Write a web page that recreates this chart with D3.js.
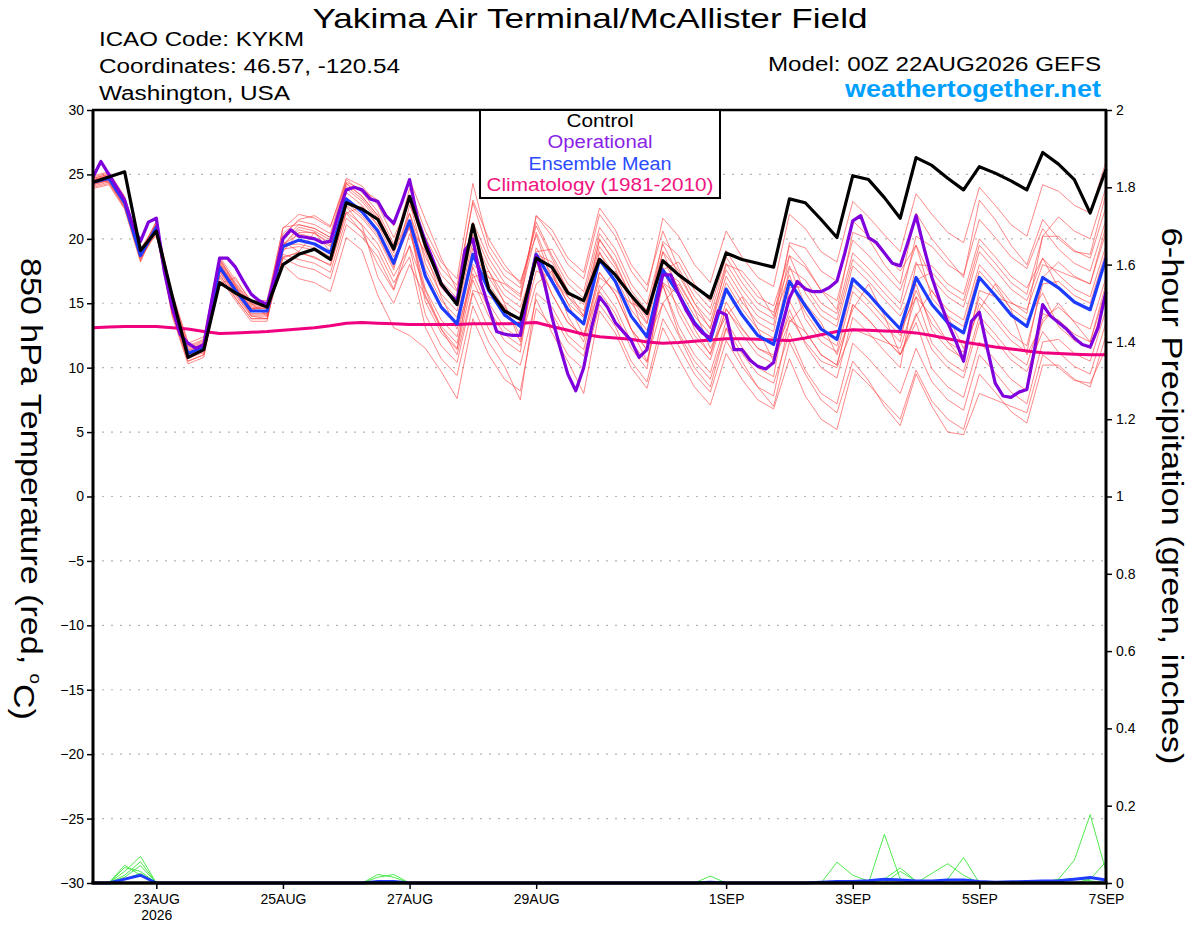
<!DOCTYPE html>
<html>
<head>
<meta charset="utf-8">
<script src="https://cdn.jsdelivr.net/npm/d3@7"></script>
<style>
  body { margin: 0; background: #fff; }
  text { font-family: "Liberation Sans", Arial, sans-serif; }
</style>
</head>
<body>
<script>
// 6-hourly, 00Z 22AUG2026 .. 00Z 07SEP2026
var control = [24.4,24.8,25.2,19.1, 20.6,15.6,10.8,11.4,16.6,15.8,15.2,14.7,
  18.0,18.8,19.2,18.4,22.8,22.3,21.5,19.2, 23.3,19.5,16.5,14.9,21.1,16.1,14.4,13.75,
  18.5,17.8,15.8,15.2,18.4,17.2,15.6,14.2, 18.3,17.2,16.3,15.4,18.9,18.4,18.1,17.8,
  23.1,22.8,21.5,20.1,24.9,24.6,23.2,21.6, 26.3,25.7,24.7,23.8,25.6,25.1,24.5,23.8,
  26.7,25.8,24.6,22.0,25.4];

var ensMean = [24.4,24.7,22.8,18.7, 20.9,14.8,11.1,11.6,17.8,16.0,14.4,14.4,
  19.4,19.9,19.6,18.9,23.1,22.1,20.6,18.1, 21.4,17.1,14.7,13.4,18.8,16.0,14.1,13.2,
  18.8,16.7,14.5,13.4,18.4,16.7,14.0,12.4, 17.6,15.7,13.5,12.1,16.1,14.1,12.5,11.8,
  16.7,14.8,13.0,12.2,16.9,15.7,14.3,13.0, 17.0,14.9,13.5,12.7,17.0,15.6,14.1,13.2,
  17.0,16.2,15.1,14.5,18.5];

var climo = [13.1,13.15,13.2,13.2, 13.2,13.1,13.0,12.8,12.65,12.7,12.75,12.8,
  12.9,13.0,13.1,13.25,13.45,13.5,13.45,13.4, 13.35,13.35,13.35,13.35,13.4,13.4,13.4,13.45,
  13.5,13.2,12.9,12.6,12.4,12.3,12.2,12.0, 11.9,11.95,12.05,12.15,12.25,12.25,12.2,12.15,
  12.1,12.3,12.55,12.8,12.95,12.9,12.85,12.8, 12.7,12.5,12.25,12.0,11.8,11.6,11.45,11.3,
  11.15,11.1,11.05,11.0,11.0];

// operational run, 3-hourly
var operational = [24.8,26.0,25.0,24.0,23.0,21.1,19.8,21.3,21.6,17.5,
  14.7,12.6,11.9,11.5,11.8,15.2,18.5,18.5,17.8,16.7,
  15.7,15.2,14.9,17.2,20.0,20.7,20.2,20.1,20.0,19.7,
  19.8,21.9,23.8,24.0,23.8,23.1,22.9,21.8,21.2,22.8,
  24.6,21.6,19.8,18.3,16.5,15.7,15.2,19.1,20.0,16.7,
  14.7,12.8,12.6,12.5,12.5,16.0,18.7,16.7,13.9,11.6,
  9.5,8.2,10.0,13.1,15.5,14.7,13.5,12.8,12.1,10.8,
  11.4,14.4,17.2,17.2,15.7,14.4,13.4,12.7,12.3,14.4,
  14.1,11.4,11.4,10.6,10.1,9.9,10.4,13.1,15.4,16.7,
  16.1,15.9,15.9,16.2,16.7,18.9,21.4,21.8,20.1,19.7,
  18.9,18.1,17.9,19.8,21.8,19.3,17.0,15.2,13.5,12.1,
  10.5,13.6,14.3,11.5,8.8,7.8,7.7,8.1,8.3,11.5,
  14.9,14.0,13.5,13.0,12.3,11.8,11.6,13.1,15.9];

// ensemble members (850 hPa temperature)
var m01 = [24.7,25.0,23.1,19.0, 21.3,15.3,11.6,12.1,18.3,16.5,14.9,14.9, 20.4,21.4,21.1,20.4,24.6,23.6,22.1,19.6,
  23.4,19.6,17.2,15.9,21.3,18.5,16.6,15.7, 21.8,20.2,18.0,16.9,21.9,20.2,17.5,15.9, 21.6,20.2,18.0,16.6,20.6,18.6,17.0,16.3,
  21.9,20.8,19.0,18.2,22.9,21.7,20.3,19.0, 23.5,21.9,20.5,19.7,24.0,22.6,21.1,20.2, 24.2,23.7,22.6,22.0,26.0];
var m02 = [24.2,24.5,22.6,18.5, 20.4,14.2,10.5,11.0,17.2,15.4,13.8,13.8, 18.6,18.9,18.6,17.9,22.1,21.1,19.6,17.1,
  19.4,14.1,11.7,10.4,15.8,13.0,11.1,10.2, 15.3,12.7,10.5,8.0,14.4,12.7,10.0,8.4, 13.1,10.7,8.5,7.1,11.1,9.1,7.5,6.8,
  10.7,7.8,6.0,5.2,9.9,8.7,7.3,6.0, 9.8,7.4,6.0,5.2,9.5,8.1,6.6,5.7, 10.2,10.2,9.1,8.5,12.5];
var m03 = [24.5,24.8,22.9,18.8, 21.4,15.6,11.9,12.4,18.6,16.8,15.2,15.2, 20.8,21.9,21.6,20.9,24.7,24.1,22.6,20.1,
  22.9,18.1,15.7,14.4,19.8,17.0,15.1,14.2, 18.8,15.7,13.5,12.4,17.4,15.7,13.0,11.4, 17.6,16.7,14.5,13.1,17.1,15.1,13.5,12.8,
  18.7,17.8,16.0,15.2,19.9,18.7,17.3,16.0, 19.5,16.9,15.5,14.7,19.0,17.6,16.1,15.2, 18.5,17.2,16.1,15.5,19.5];
var m04 = [24.1,24.4,22.5,18.4, 20.6,14.5,10.8,11.3,17.5,15.7,14.1,14.1, 19.5,20.4,20.1,19.4,23.6,22.6,21.1,18.6,
  20.9,15.6,13.2,11.9,17.3,14.5,12.6,11.7, 18.8,18.2,16.0,14.9,19.9,18.2,15.5,13.9, 19.8,18.7,16.5,15.1,19.1,17.1,15.5,14.8,
  18.7,15.8,14.0,13.2,17.9,16.7,15.3,14.0, 16.5,12.9,11.5,10.7,15.0,13.6,12.1,11.2, 17.0,18.2,17.1,16.5,20.5];
var m05 = [24.8,25.1,23.2,19.1, 21.1,14.8,11.1,11.6,17.8,16.0,14.4,14.4, 19.2,19.4,19.1,18.4,22.6,21.6,20.1,17.6,
  22.6,20.1,17.7,16.4,22.8,19.0,17.1,16.2, 21.3,18.7,16.5,15.4,20.4,18.7,16.0,14.4, 17.8,14.2,12.0,10.6,14.6,12.6,11.0,10.3,
  14.5,11.8,10.0,9.2,13.9,12.7,11.3,10.0, 16.8,17.4,16.0,15.2,19.5,18.1,16.6,15.7, 20.2,20.2,19.1,18.5,22.5];
var m06 = [24.3,24.6,22.7,18.6, 21.0,15.1,11.4,11.9,18.1,16.3,14.7,14.7, 18.8,18.4,18.1,17.4,21.6,20.6,19.1,16.6,
  18.6,13.1,10.7,9.4,14.8,12.0,10.1,7.5, 15.8,14.7,12.5,11.4,16.4,14.7,12.0,10.4, 16.6,15.7,13.5,12.1,16.1,14.1,12.5,11.8,
  17.7,16.8,15.0,14.2,18.9,17.7,16.3,15.0, 20.2,19.4,18.0,17.2,21.5,20.1,18.6,17.7, 20.8,19.2,18.1,17.5,21.5];
var m07 = [24.6,24.9,23.0,18.9, 20.7,14.2,10.5,11.0,17.2,15.4,13.8,13.8, 19.5,20.7,20.4,19.7,23.9,22.9,21.4,18.9,
  22.0,17.6,15.2,13.9,19.3,16.5,14.6,13.7, 19.3,17.2,15.0,13.9,18.9,17.2,14.5,12.9, 16.4,12.7,10.5,9.1,13.1,11.1,9.5,8.8,
  12.7,9.8,8.0,7.2,11.9,10.7,9.3,8.0, 11.5,8.9,7.5,6.7,11.0,9.6,8.1,7.2, 12.0,12.2,11.1,10.5,14.5];
var m08 = [24.0,24.3,22.4,18.3, 21.0,15.4,11.7,12.2,18.4,16.6,15.0,15.0, 19.5,19.6,19.3,18.6,22.8,21.8,20.3,17.8,
  22.0,18.6,16.2,14.9,20.3,17.5,15.6,14.7, 18.3,14.2,12.0,10.9,15.9,14.2,11.5,9.9, 17.6,18.2,16.0,14.6,18.6,16.6,15.0,14.3,
  17.9,14.8,13.0,12.2,16.9,15.7,14.3,13.0, 15.5,11.9,10.5,9.7,14.0,12.6,11.1,10.2, 14.2,13.7,12.6,12.0,16.0];
var m09 = [24.4,24.7,22.8,18.7, 20.5,14.0,10.3,10.8,17.0,15.2,13.6,13.6, 19.5,20.9,20.6,19.9,24.1,23.1,21.6,19.1,
  20.9,15.1,12.7,11.4,16.8,14.0,12.1,11.2, 19.0,19.2,17.0,15.9,20.9,19.2,16.5,14.9, 19.6,17.2,15.0,13.6,17.6,15.6,14.0,13.3,
  19.7,19.3,17.5,16.7,21.4,20.2,18.8,17.5, 19.5,15.4,14.0,13.2,17.5,16.1,14.6,13.7, 15.8,13.2,12.1,11.5,15.5];
var m10 = [24.9,25.2,23.3,19.2, 21.2,15.0,11.3,11.8,18.0,16.2,14.6,14.6, 18.5,17.9,17.6,16.9,21.1,20.1,18.6,16.1,
  20.4,17.1,14.7,13.4,18.8,16.0,14.1,13.2, 18.3,15.7,13.5,12.4,17.4,15.7,13.0,11.4, 16.6,14.7,12.5,11.1,15.1,13.1,11.5,10.8,
  15.2,12.8,11.0,10.2,14.9,13.7,12.3,11.0, 13.5,9.9,8.5,7.7,12.0,10.6,9.1,8.2, 13.8,14.7,13.6,13.0,17.0];
var m11 = [23.9,24.2,22.3,18.2, 20.9,15.2,11.5,12.0,18.2,16.4,14.8,14.8, 20.9,21.1,20.8,20.1,24.3,23.3,21.8,19.3,
  23.9,20.6,18.2,16.9,24.3,19.5,17.6,16.7, 20.3,16.7,14.5,13.4,18.4,16.7,14.0,12.4, 16.4,13.2,11.0,9.6,13.6,11.6,10.0,9.3,
  16.2,16.3,14.5,13.7,18.4,17.2,15.8,14.5, 18.2,15.9,14.5,13.7,18.0,16.6,15.1,14.2, 20.2,21.7,20.6,20.0,24.0];
var m12 = [24.6,24.9,23.0,18.9, 20.9,14.6,10.9,11.4,17.6,15.8,14.2,14.2, 19.3,19.9,19.6,18.9,23.1,22.1,20.6,18.1,
  20.9,16.1,13.7,12.4,17.8,15.0,13.1,12.2, 18.8,17.7,15.5,14.4,19.4,17.7,15.0,13.4, 18.4,16.2,14.0,12.6,16.6,14.6,13.0,12.3,
  16.7,14.3,12.5,11.7,16.4,15.2,13.8,12.5, 16.0,13.4,12.0,11.2,15.5,14.1,12.6,11.7, 16.5,16.7,15.6,15.0,19.0];
var m13 = [24.3,24.6,22.7,18.6, 21.0,15.0,11.3,11.8,18.0,16.2,14.6,14.6, 18.0,16.9,16.6,15.9,20.1,19.1,15.6,13.1,
  12.5,11.5,9.7,7.6,13.8,11.0,9.1,8.2, 14.6,13.2,11.0,9.9,14.9,13.2,10.5,8.9, 13.8,11.7,9.5,8.1,12.1,10.1,8.5,7.8,
  13.7,12.8,11.0,10.2,14.9,13.7,12.3,11.0, 14.2,11.4,10.0,9.2,13.5,12.1,10.6,9.7, 12.8,11.2,10.1,9.5,13.5];
var m14 = [24.7,25.0,23.1,19.0, 20.9,14.4,10.7,11.2,17.4,15.6,14.0,14.0, 19.9,21.1,20.8,20.1,24.3,23.3,21.8,19.3,
  23.1,19.1,16.7,15.4,20.8,18.0,16.1,15.2, 21.8,20.7,18.5,17.4,22.4,20.7,18.0,16.4, 20.6,17.7,15.5,14.1,18.1,16.1,14.5,13.8,
  17.2,13.8,12.0,11.2,15.9,14.7,13.3,12.0, 18.0,17.9,16.5,15.7,20.0,18.6,17.1,16.2, 18.5,16.2,15.1,14.5,18.5];
var m15 = [24.5,24.9,23.0,18.9, 21.0,15.0,11.0,11.5,18.5,16.4,14.0,13.8, 19.0,20.5,20.5,19.0,22.5,21.0,17.0,15.0,
  18.0,15.5,13.0,11.0,16.0,15.5,14.8,12.5, 17.5,17.0,15.5,14.0,20.0,18.0,15.5,13.5, 19.0,17.5,15.0,13.0,18.0,17.5,16.0,14.0,
  19.5,18.0,16.0,14.5,20.5,20.0,18.0,16.5, 22.0,20.0,18.5,17.0,23.0,21.5,19.5,18.0, 21.5,20.0,19.0,18.8,23.5];
var m16 = [24.2,24.6,22.9,19.2, 20.2,15.8,12.0,11.0,16.5,17.0,15.0,14.0, 18.5,19.0,20.5,19.5,22.0,22.5,21.0,19.5,
  21.0,19.0,15.5,13.0,17.0,17.5,15.0,12.0, 16.5,17.5,15.0,12.5,16.0,17.5,15.5,12.0, 15.0,16.5,14.5,11.5,14.0,15.5,13.0,10.5,
  13.5,15.0,13.5,11.0,14.5,16.5,14.0,11.0, 14.0,16.0,14.0,11.5,14.5,16.5,14.5,11.0, 13.5,15.0,13.5,12.0,16.5];
var m17 = [24.3,24.5,22.4,18.6, 21.2,15.3,11.2,11.6,18.0,16.2,14.6,14.8, 20.2,21.5,21.8,21.0,24.4,23.8,23.0,21.0,
  24.6,21.5,18.5,16.0,23.0,20.0,18.0,16.5, 21.0,18.5,16.0,14.0,19.0,16.5,13.0,10.5, 15.0,12.5,10.0,8.5,13.0,10.5,8.5,7.0,
  12.0,9.5,7.5,6.5,10.5,9.0,7.0,5.5, 9.5,7.0,5.0,4.8,8.0,7.5,7.0,6.5, 11.0,10.0,9.0,8.8,11.5];
var m18 = [24.6,24.4,22.7,18.9, 20.7,14.7,11.0,11.4,17.9,15.9,14.6,14.2, 19.8,19.0,18.5,18.0,22.0,20.5,18.0,16.0,
  19.5,16.0,13.0,11.5,18.0,17.0,16.5,15.5, 20.5,17.5,14.0,12.0,17.0,16.0,15.0,14.5, 19.0,16.0,13.0,11.0,14.5,13.0,11.5,11.0,
  14.0,12.0,10.5,10.0,13.0,12.5,12.0,11.5, 15.5,14.0,12.0,10.5,16.0,15.5,15.0,14.5, 18.0,17.5,17.0,16.5,21.0];
var members = [m01,m02,m03,m04,m05,m06,m07,m08,m09,m10,m11,m12,m13,m14,m15,m16,m17,m18];

// 6-hour precipitation, inches
var precipA = [0,0,0.046,0.02,0,0,0,0,0,0, 0,0,0,0,0,0,0,0,0.022,0.015, 0,0,0,0,0,0,0,0,0,0,
  0,0,0,0,0,0,0,0,0,0, 0,0,0,0,0,0,0,0.054,0.02,0.005, 0,0,0,0,0,0,0,0,0,0, 0,0,0,0,0];
var precipB = [0,0,0.03,0.069,0,0,0,0,0,0, 0,0,0,0,0,0,0,0,0.015,0.022, 0,0,0,0,0,0,0,0,0,0,
  0,0,0,0,0,0,0,0,0,0, 0,0,0,0,0,0,0,0,0,0, 0.126,0.01,0,0,0,0,0,0,0,0, 0,0,0,0,0];
var precipC = [0,0,0.02,0.055,0,0,0,0,0,0, 0,0,0,0,0,0,0,0,0,0, 0,0,0,0,0,0,0,0,0,0,
  0,0,0,0,0,0,0,0,0,0, 0,0,0,0,0,0,0,0,0,0, 0.01,0.039,0.005,0,0,0,0,0,0,0, 0,0,0,0.01,0.055];
var precipD = [0,0,0.015,0.045,0,0,0,0,0,0, 0,0,0,0,0,0,0,0,0,0, 0,0,0,0,0,0,0,0,0,0,
  0,0,0,0,0,0,0,0,0,0.018, 0,0,0,0,0,0,0,0,0,0, 0,0.03,0.005,0,0,0,0,0,0.004,0, 0,0,0,0,0];
var precipE = [0,0,0.04,0.03,0,0,0,0,0,0, 0,0,0,0,0,0,0,0,0,0, 0,0,0,0,0,0,0,0,0,0,
  0,0,0,0,0,0,0,0,0,0, 0,0,0,0,0,0,0,0,0,0, 0,0,0,0.025,0.05,0.02,0,0,0,0, 0,0.01,0.059,0.177,0.03];
var precipF = [0,0,0.01,0.025,0,0,0,0,0,0, 0,0,0,0,0.002,0,0,0,0,0, 0,0,0,0,0,0,0,0,0,0,
  0,0,0,0,0,0,0,0,0,0, 0,0,0,0,0,0,0,0,0,0, 0,0,0,0,0.01,0.066,0,0,0,0, 0.004,0.008,0.012,0.006,0];
var precipMembers = [precipA, precipB, precipC, precipD, precipE, precipF];
var precipMean = [0,0,0.01,0.02,0,0,0,0,0,0, 0,0,0,0,0,0,0,0,0.004,0.004, 0,0,0,0,0,0,0,0,0,0,
  0,0,0,0,0,0,0,0,0,0.002, 0,0,0,0,0,0,0.002,0.004,0.004,0.006,
  0.01,0.008,0.005,0.005,0.008,0.008,0.004,0.002,0.003,0.004, 0.005,0.006,0.01,0.014,0.008];

var tempTicks = [-30,-25,-20,-15,-10,-5,0,5,10,15,20,25,30];
var precipTicks = [0,0.2,0.4,0.6,0.8,1,1.2,1.4,1.6,1.8,2];
var dayTicks = ["2026-08-23","2026-08-25","2026-08-27","2026-08-29","2026-09-01","2026-09-03","2026-09-05","2026-09-07"];
var dayLabels = ["23AUG","25AUG","27AUG","29AUG","1SEP","3SEP","5SEP","7SEP"];

var W = 1200, H = 927;
var plotL = 93, plotR = 1106, plotT = 110, plotB = 883;
var start = Date.UTC(2026, 7, 22, 0);
var HOUR = 3600e3;

var svg = d3.select("body").append("svg").attr("width", W).attr("height", H);

var x = d3.scaleUtc()
  .domain([new Date(start), new Date(start + 384 * HOUR)])
  .range([plotL, plotR]);
var yT = d3.scaleLinear().domain([-30, 30]).range([plotB, plotT]);
var yP = d3.scaleLinear().domain([0, 2]).range([plotB, plotT]);

var t6 = function(i) { return x(new Date(start + i * 6 * HOUR)); };
var t3 = function(i) { return x(new Date(start + i * 3 * HOUR)); };

// grid
svg.append("g").selectAll("line")
  .data(tempTicks.filter(function(d) { return d > -30 && d < 30; }))
  .enter().append("line")
  .attr("x1", plotL).attr("x2", plotR)
  .attr("y1", function(d) { return yT(d); })
  .attr("y2", function(d) { return yT(d); })
  .attr("stroke", "#b4b4b4").attr("stroke-width", 1.2)
  .attr("stroke-dasharray", "2,7");

var lineT6 = d3.line().x(function(d, i) { return t6(i); }).y(function(d) { return yT(d); });
var lineT3 = d3.line().x(function(d, i) { return t3(i); }).y(function(d) { return yT(d); });
var lineP6 = d3.line().x(function(d, i) { return t6(i); }).y(function(d) { return yP(d); });

var plot = svg.append("g").attr("fill", "none").attr("stroke-linejoin", "round");

plot.selectAll(".member").data(members).enter().append("path")
  .attr("class", "member")
  .attr("d", lineT6)
  .attr("stroke", "#ff4646").attr("stroke-opacity", 0.8).attr("stroke-width", 0.8);

plot.selectAll(".pmember").data(precipMembers).enter().append("path")
  .attr("class", "pmember")
  .attr("d", lineP6)
  .attr("stroke", "#3ce63c").attr("stroke-width", 0.9);

plot.append("path").attr("d", lineP6(precipMean))
  .attr("stroke", "#1e3cff").attr("stroke-width", 3);

plot.append("path").attr("d", lineT6(climo))
  .attr("stroke", "#f0007f").attr("stroke-width", 3);
plot.append("path").attr("d", lineT6(ensMean))
  .attr("stroke", "#1e3cff").attr("stroke-width", 3.2);
plot.append("path").attr("d", lineT3(operational))
  .attr("stroke", "#7f00dc").attr("stroke-width", 3.2);
plot.append("path").attr("d", lineT6(control))
  .attr("stroke", "#000").attr("stroke-width", 3.2);

// axes
var axL = svg.append("g").attr("transform", "translate(" + plotL + ",0)")
  .call(d3.axisLeft(yT).tickValues(tempTicks).tickSize(6).tickPadding(3).tickFormat(d3.format("d")));
var axR = svg.append("g").attr("transform", "translate(" + plotR + ",0)")
  .call(d3.axisRight(yP).tickValues(precipTicks).tickSize(6).tickPadding(4).tickFormat(function(d) { return String(+d.toFixed(1)); }));
var dayDates = dayTicks.map(function(s) { return new Date(s + "T00:00:00Z"); });
var axB = svg.append("g").attr("transform", "translate(0," + plotB + ")")
  .call(d3.axisBottom(x).tickValues(dayDates).tickSize(6).tickPadding(5)
    .tickFormat(function(d, i) { return dayLabels[i]; }));

[axL, axR, axB].forEach(function(a) {
  a.select(".domain").remove();
  a.selectAll(".tick line").attr("stroke", "#000").attr("stroke-width", 1.5);
  a.selectAll(".tick text").attr("fill", "#000").style("font-size", "14px")
    .style("font-family", "'Liberation Sans', Arial, sans-serif");
});
axB.select(".tick text").append("tspan").attr("x", 0).attr("dy", "1.15em").text("2026");

// frame
var frame = svg.append("g").attr("stroke", "#000");
frame.append("line").attr("x1", plotL - 1).attr("x2", plotR + 1).attr("y1", plotT).attr("y2", plotT).attr("stroke-width", 2.5);
frame.append("line").attr("x1", plotL - 1.5).attr("x2", plotR + 1.5).attr("y1", plotB).attr("y2", plotB).attr("stroke-width", 3.5);
frame.append("line").attr("x1", plotL).attr("x2", plotL).attr("y1", plotT).attr("y2", plotB).attr("stroke-width", 3);
frame.append("line").attr("x1", plotR).attr("x2", plotR).attr("y1", plotT).attr("y2", plotB).attr("stroke-width", 3);

// legend
var legend = [
  { name: "Control", color: "#000", w: 67 },
  { name: "Operational", color: "#8a1fe6", w: 105 },
  { name: "Ensemble Mean", color: "#2b4bff", w: 143 },
  { name: "Climatology (1981-2010)", color: "#f0157f", w: 227 }
];
svg.append("rect").attr("x", 480).attr("y", 110).attr("width", 240).attr("height", 88)
  .attr("fill", "#fff").attr("stroke", "#000").attr("stroke-width", 2);
svg.selectAll(".leg").data(legend).enter().append("text")
  .attr("class", "leg")
  .attr("x", 600).attr("y", function(d, i) { return 127 + i * 21.4; })
  .attr("text-anchor", "middle").attr("fill", function(d) { return d.color; })
  .attr("textLength", function(d) { return d.w; }).attr("lengthAdjust", "spacingAndGlyphs")
  .style("font-size", "18px").text(function(d) { return d.name; });

// titles
svg.append("text").attr("x", 590).attr("y", 28).attr("text-anchor", "middle")
  .attr("textLength", 555).attr("lengthAdjust", "spacingAndGlyphs")
  .style("font-size", "28px").text("Yakima Air Terminal/McAllister Field");
var info = [
  { t: "ICAO Code: KYKM", w: 205 },
  { t: "Coordinates: 46.57, -120.54", w: 301 },
  { t: "Washington, USA", w: 191 }
];
svg.selectAll(".info").data(info).enter().append("text")
  .attr("class", "info").attr("x", 99).attr("y", function(d, i) { return 46 + i * 27; })
  .attr("textLength", function(d) { return d.w; }).attr("lengthAdjust", "spacingAndGlyphs")
  .style("font-size", "20px").text(function(d) { return d.t; });
svg.append("text").attr("x", 1101).attr("y", 71).attr("text-anchor", "end")
  .attr("textLength", 333).attr("lengthAdjust", "spacingAndGlyphs")
  .style("font-size", "20px").text("Model: 00Z 22AUG2026 GEFS");
svg.append("text").attr("x", 1101).attr("y", 97).attr("text-anchor", "end")
  .attr("textLength", 256).attr("lengthAdjust", "spacingAndGlyphs")
  .attr("fill", "#00a0ff").style("font-size", "23px").style("font-weight", "bold")
  .text("weathertogether.net");

// axis titles, stretched to the reference width
function stretch(sel, tx, ty, target) {
  var w = sel.node().getComputedTextLength();
  sel.attr("transform", "translate(" + tx + "," + ty + ") rotate(90) scale(" + (target / w) + ",1)");
}
var yl = svg.append("text").attr("text-anchor", "middle").style("font-size", "29px");
yl.append("tspan").text("850 hPa Temperature (red, ");
yl.append("tspan").attr("dy", "-0.55em").style("font-size", "16px").text("o");
yl.append("tspan").attr("dy", "0.55em").text("C)");
stretch(yl, 21, 489, 462);

var yr = svg.append("text").attr("text-anchor", "middle").style("font-size", "29px")
  .text("6-hour Precipitation (green, inches)");
stretch(yr, 1162, 496, 537);
</script>
</body>
</html>
